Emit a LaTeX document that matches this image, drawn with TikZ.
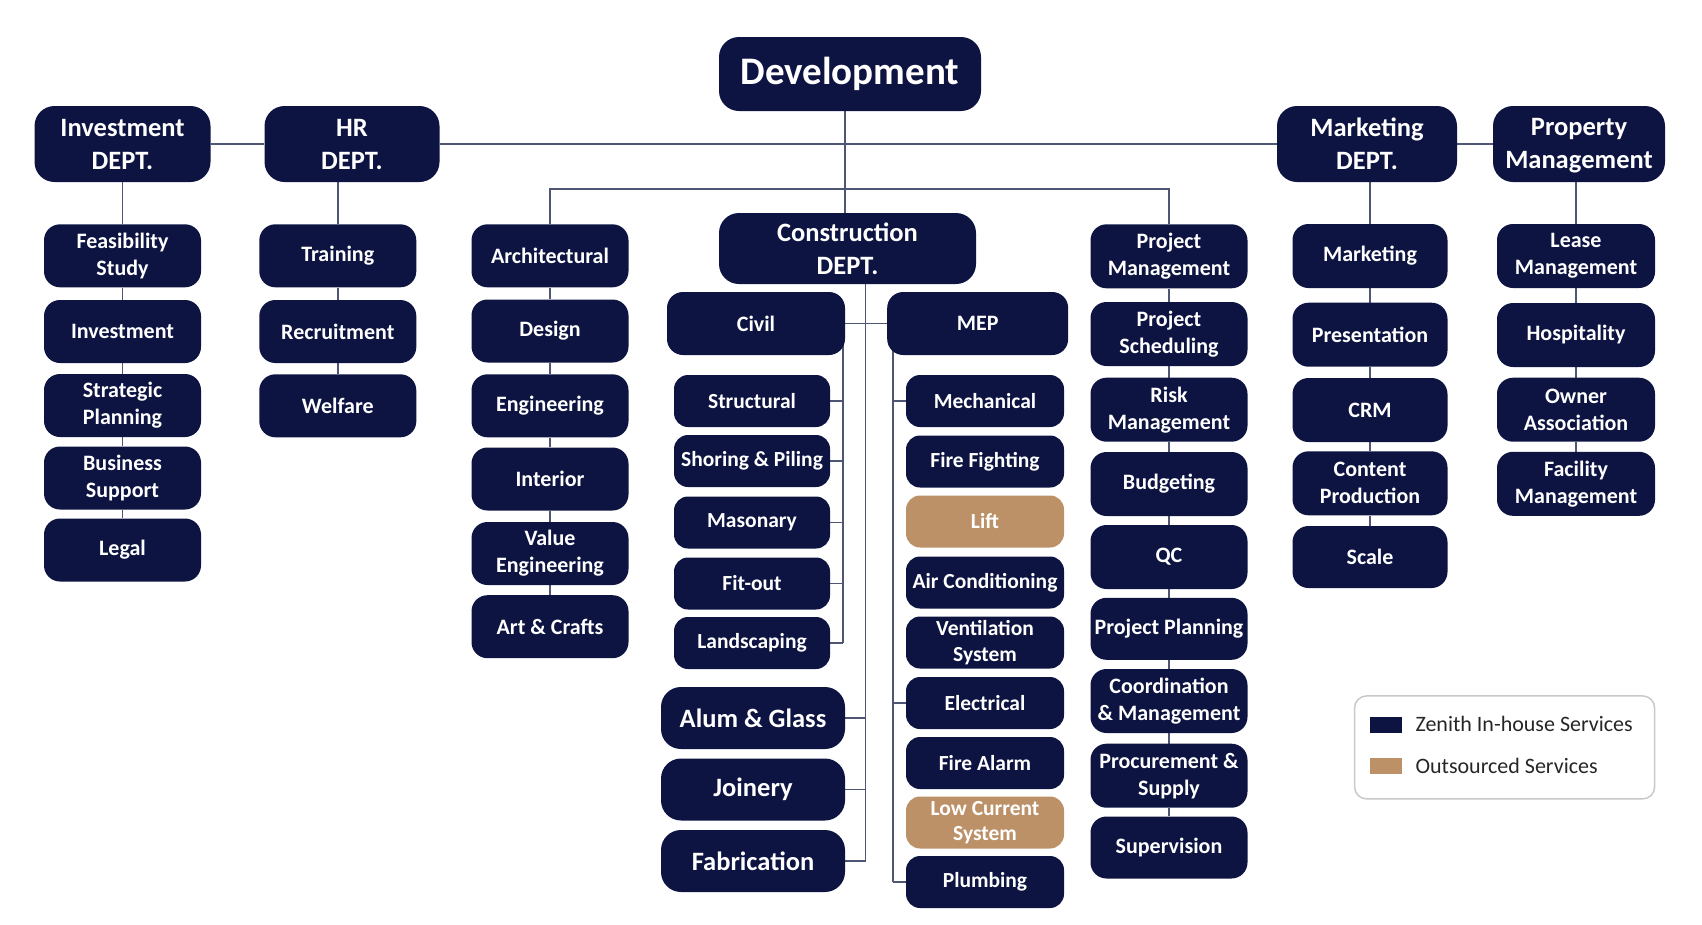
\documentclass[tikz,border=0pt]{standalone}
\usepackage{fontspec}
\setmainfont{Carlito}
\usetikzlibrary{backgrounds}
\definecolor{navy}{HTML}{0D1442}
\definecolor{outsrc}{HTML}{BC9168}
\definecolor{linkc}{HTML}{4F5673}
\definecolor{keyline}{HTML}{C9C9CC}
\begin{document}
\begin{tikzpicture}[x=1pt,y=-1pt]
                \tikzset{
                    unit/.style={rounded corners=16pt, fill=navy, text=white, align=center, inner sep=0pt,
                        font=\fontsize{22}{27}\selectfont\bfseries, minimum width=157pt, minimum height=63pt},
                    subunit/.style={unit, minimum height=52pt, rounded corners=14pt,
                        font=\fontsize{21.5}{25.5}\selectfont\bfseries},
                    dept/.style={unit, font=\fontsize{26.5}{33}\selectfont\bfseries, minimum height=76pt, rounded corners=20pt},
                    outsourced/.style={fill=outsrc},
                    link/.style={draw=linkc, line width=1.4pt}
                }
                \useasboundingbox (0,0) rectangle (1702,924);

                \node[unit, minimum width=262pt, minimum height=74pt, rounded corners=20pt,
                    font=\fontsize{39}{46}\selectfont\bfseries] (dev) at (850,74) {Development};
                \node[dept, minimum width=176pt] (inv) at (122.5,144) {Investment\\DEPT.};
                \node[dept, minimum width=175pt] (hr) at (352,144) {HR\\DEPT.};
                \node[dept, minimum width=180pt] (mkt) at (1367,144) {Marketing\\DEPT.};
                \node[dept, minimum width=172pt] (prop) at (1579,144) {Property\\Mana\smash{g}ement};

                \node[unit] (feas) at (122.5,255.8) {Feasibility\\Study};
                \node[unit] (invest) at (122.5,331.5) {Investment};
                \node[unit] (strat) at (122.5,405.5) {Strategic\\Planning};
                \node[unit] (bus) at (122.5,478) {Business\\Support};
                \node[unit] (legal) at (122.5,550) {Legal};

                \node[unit] (train) at (337.8,255.8) {Training};
                \node[unit] (recruit) at (337.8,331.5) {Recruitment};
                \node[unit] (welfare) at (337.8,405.8) {Welfare};

                \node[unit] (arch) at (550,255.8) {Architectural};
                \node[unit] (design) at (550,331) {Design};
                \node[unit] (engg) at (550,405.8) {Engineering};
                \node[unit] (interior) at (550,479) {Interior};
                \node[unit] (value) at (550,553.5) {Value\\Engineering};
                \node[unit] (art) at (550,626.7) {Art \& Crafts};

                \node[dept, minimum width=257pt, minimum height=71pt] (cons) at (847.5,248.5) {Construction\\DEPT.};
                \node[unit, minimum width=178pt] (civil) at (756,323.5) {Civil};
                \node[unit, minimum width=181pt] (mep) at (977.7,323.5) {MEP};

                \node[subunit, minimum width=156pt] (struct) at (752,401) {Structural};
                \node[subunit, minimum width=156pt] (shoring) at (752,461) {Shoring \& Piling};
                \node[subunit, minimum width=156pt] (mason) at (752,522.5) {Masonary};
                \node[subunit, minimum width=156pt] (fitout) at (752,583.5) {Fit-out};
                \node[subunit, minimum width=156pt] (land) at (752,643) {Landscaping};
                \node[dept, minimum width=184pt, minimum height=62pt] (alum) at (753,718) {Alum \& Glass};
                \node[dept, minimum width=184pt, minimum height=62pt] (joinery) at (753,789.5) {Joinery};
                \node[dept, minimum width=184pt, minimum height=62pt] (fab) at (753,861) {Fabrication};

                \node[subunit, minimum width=158pt] (mech) at (985,401) {Mechanical};
                \node[subunit, minimum width=158pt] (firefight) at (985,461.5) {Fire Fighting};
                \node[subunit, outsourced, minimum width=158pt] (lift) at (985,521.5) {Lift};
                \node[subunit, minimum width=158pt] (aircon) at (985,582.5) {Air Conditioning};
                \node[subunit, minimum width=158pt] (vent) at (985,642.5) {Ventilation\\System};
                \node[subunit, minimum width=158pt] (elec) at (985,703) {Electrical};
                \node[subunit, minimum width=158pt] (alarm) at (985,763) {Fire Alarm};
                \node[subunit, outsourced, minimum width=158pt] (lowcur) at (985,822.5) {Low Current\\System};
                \node[subunit, minimum width=158pt] (plumb) at (985,882) {Plumbing};

                \node[unit, minimum height=64pt] (pm) at (1169,256.3) {Project\\Management};
                \node[unit, minimum height=64pt] (sched) at (1169,334) {Project\\Scheduling};
                \node[unit, minimum height=64pt] (risk) at (1169,409.7) {Risk\\Management};
                \node[unit, minimum height=64pt] (budget) at (1169,484) {Budgeting};
                \node[unit, minimum height=64pt] (qc) at (1169,557) {QC};
                \node[unit, minimum height=62pt] (plan) at (1169,628.8) {Project Planning};
                \node[unit, minimum height=64pt] (coord) at (1169,701) {Coordination\\\& Management};
                \node[unit, minimum height=64pt] (proc) at (1169,775.7) {Procurement \&\\Supply};
                \node[unit, minimum height=62pt] (superv) at (1169,847.5) {Supervision};

                \node[unit, minimum width=155pt, minimum height=64pt] (mktg) at (1370,256) {Marketing};
                \node[unit, minimum width=155pt, minimum height=64pt] (pres) at (1370,334.7) {Presentation};
                \node[unit, minimum width=155pt, minimum height=64pt] (crm) at (1370,410) {CRM};
                \node[unit, minimum width=155pt, minimum height=64pt] (content) at (1370,483.3) {Content\\Production};
                \node[unit, minimum width=155pt, minimum height=62pt] (scale) at (1370,557) {Scale};

                \node[unit, minimum width=158pt, minimum height=64pt] (lease) at (1576,256) {Lease\\Management};
                \node[unit, minimum width=158pt, minimum height=64pt] (hosp) at (1576,335) {Hospitality};
                \node[unit, minimum width=158pt, minimum height=64pt] (owner) at (1576,409.7) {Owner\\Association};
                \node[unit, minimum width=158pt, minimum height=64pt] (facility) at (1576,483.8) {Facility\\Management};

                \node[draw=keyline, line width=1.5pt, rounded corners=12pt, minimum width=300pt, minimum height=103pt] (legend) at (1504.6,747.4) {};
                \node[fill=navy, minimum width=31.7pt, minimum height=15.4pt, inner sep=0pt] (keyin) at (1386.3,725) {};
                \node[fill=outsrc, minimum width=31.7pt, minimum height=15.7pt, inner sep=0pt] (keyout) at (1386.3,766.2) {};
                \node[anchor=west, inner sep=0pt, font=\fontsize{22}{26}\selectfont, text=black!85] (keyintxt) at ([xshift=13pt,yshift=1.5pt]keyin.east) {Zenith In-house Services};
                \node[anchor=west, inner sep=0pt, font=\fontsize{22}{26}\selectfont, text=black!85] (keyouttxt) at ([xshift=13pt,yshift=0.5pt]keyout.east) {Outsourced Services};

                \coordinate (devbus) at ([xshift=-5pt]dev.south);
                \coordinate (consbus) at ([xshift=18.2pt]cons.south);
                \coordinate (civbus) at ([xshift=-2.3pt]civil.east);
                \coordinate (mepbus) at ([xshift=6pt]mep.west);

                \begin{scope}[on background layer]
                \draw[link] (inv) -- (hr);
                \draw[link] (hr) -- (mkt);
                \draw[link] (mkt) -- (prop);
                \draw[link] (devbus) -- (devbus |- cons.north);
                \draw[link] (arch.north) -- ++(0,-35) -| (pm.north);

                \draw[link] (inv) -- (feas) -- (invest) -- (strat) -- (bus) -- (legal);
                \draw[link] (hr.south -| train) -- (train) -- (recruit) -- (welfare);
                \draw[link] (arch) -- (design) -- (engg) -- (interior) -- (value) -- (art);

                \draw[link] (civil) -- (mep);
                \draw[link] (consbus) -- (consbus |- fab);
                \draw[link] (alum) -- (alum -| consbus);
                \draw[link] (joinery) -- (joinery -| consbus);
                \draw[link] (fab) -- (fab -| consbus);

                \draw[link] (civbus) -- (civbus |- land);
                \draw[link] (struct) -- (struct -| civbus);
                \draw[link] (shoring) -- (shoring -| civbus);
                \draw[link] (mason) -- (mason -| civbus);
                \draw[link] (fitout) -- (fitout -| civbus);
                \draw[link] (land) -- (land -| civbus);

                \draw[link] (mepbus) -- (mepbus |- plumb);
                \draw[link] (mech) -- (mech -| mepbus);
                \draw[link] (elec) -- (elec -| mepbus);
                \draw[link] (plumb) -- (plumb -| mepbus);

                \draw[link] (pm) -- (sched) -- (risk) -- (budget) -- (qc) -- (plan) -- (coord) -- (proc) -- (superv);
                \draw[link] (mkt.south -| mktg) -- (mktg) -- (pres) -- (crm) -- (content) -- (scale);
                \draw[link] (prop.south -| lease) -- (lease) -- (hosp) -- (owner) -- (facility);
                \end{scope}
            \end{tikzpicture}
\end{document}
